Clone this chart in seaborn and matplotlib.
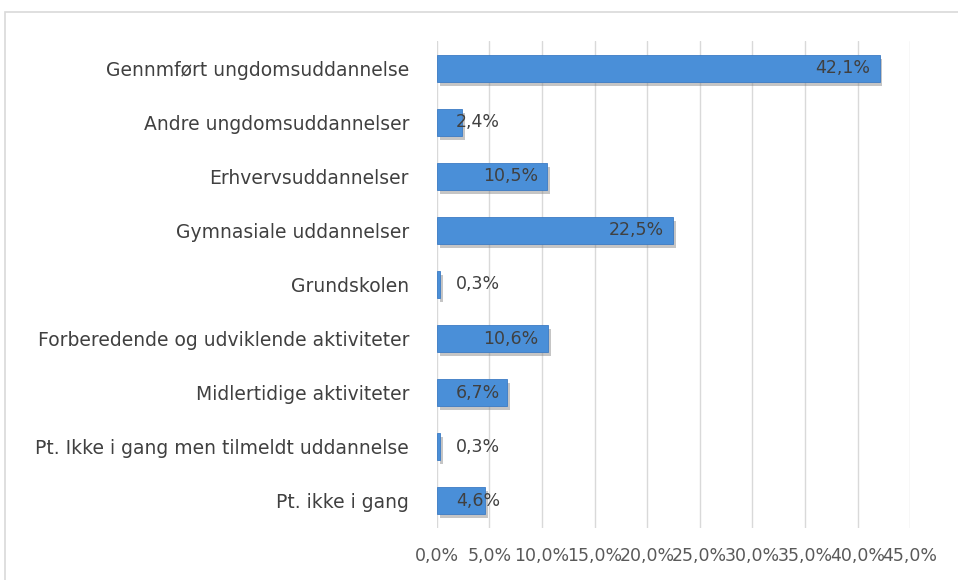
import pandas as pd
import seaborn as sns
import matplotlib.pyplot as plt
import matplotlib.patheffects as pe
from matplotlib.patches import Rectangle

# Data
kategorier = [
    'Gennmført ungdomsuddannelse',
    'Andre ungdomsuddannelser',
    'Erhvervsuddannelser',
    'Gymnasiale uddannelser',
    'Grundskolen',
    'Forberedende og udviklende aktiviteter',
    'Midlertidige aktiviteter',
    'Pt. Ikke i gang men tilmeldt uddannelse',
    'Pt. ikke i gang',
]
andel = [42.1, 2.4, 10.5, 22.5, 0.3, 10.6, 6.7, 0.3, 4.6]
ticks = [0, 5, 10, 15, 20, 25, 30, 35, 40, 45]

df = pd.DataFrame({'kategori': kategorier, 'andel': andel})

sns.set_style('white')
plt.rcParams['font.family'] = ['DejaVu Sans']

fig = plt.figure(figsize=(9.58, 5.8), dpi=100)
ax = fig.add_axes([0.456, 0.09, 0.494, 0.839])

# ramme om hele diagrammet
fig.patches.append(Rectangle((5 / 958, -0.1), 1.1, 1.1 - 12 / 580,
                             transform=fig.transFigure, fill=False,
                             edgecolor='#d9d9d9', linewidth=1.2))

sns.barplot(data=df, x='andel', y='kategori', orient='h', color='#4a8fd8',
            width=0.5, saturation=1, edgecolor='#3c7bc4', linewidth=0.6, ax=ax)

# skygge under søjlerne
for bar in ax.patches:
    bar.set_path_effects([pe.SimplePatchShadow(offset=(2, -3), shadow_rgbFace='#7f7f7f', alpha=0.45),
                          pe.Normal()])

for i, v in enumerate(andel):
    x_txt = max(v - 0.9, 6.0)
    ax.text(x_txt, i, f'{v:.1f}%'.replace('.', ','), ha='right', va='center',
            fontsize=12.5, color='#404040')

ax.set_xlim(0, 45)
ax.set_ylim(8.5, -0.5)
ax.set_xticks(ticks)
ax.set_xticklabels([f'{t:.1f}%'.replace('.', ',') for t in ticks])
ax.grid(axis='x', color='#d9d9d9', linewidth=1)
ax.set_axisbelow(True)
for s in ax.spines.values():
    s.set_visible(False)
ax.tick_params(axis='x', length=0, pad=14, labelsize=12.5, labelcolor='#595959')
ax.tick_params(axis='y', length=0, pad=20, labelsize=13.5, labelcolor='#404040')
ax.set_xlabel('')
ax.set_ylabel('')

fig.savefig('out.png', dpi=100)
